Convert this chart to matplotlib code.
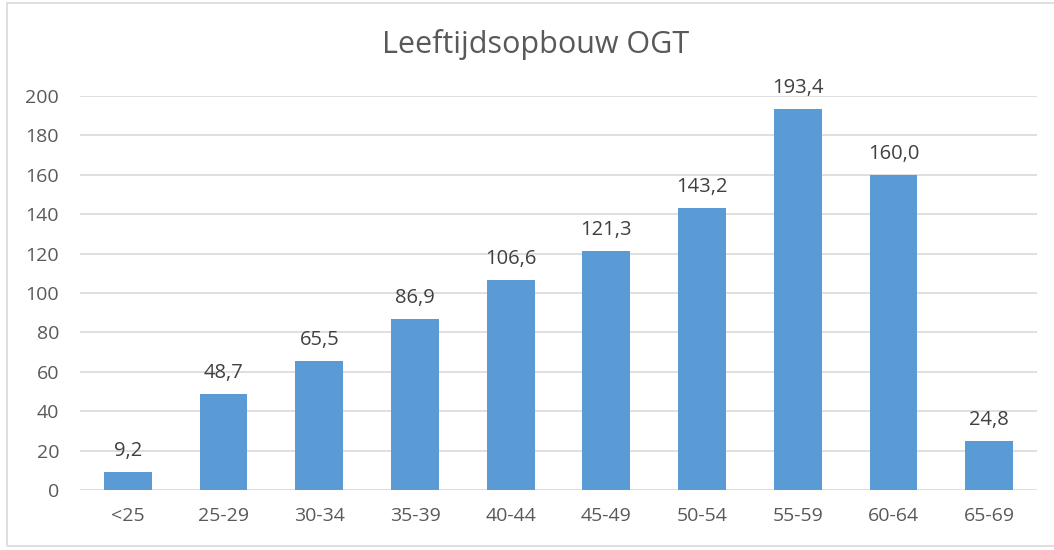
import matplotlib.pyplot as plt
from matplotlib.patches import Rectangle

categories = ['<25', '25-29', '30-34', '35-39', '40-44', '45-49',
              '50-54', '55-59', '60-64', '65-69']
values = [9.2, 48.7, 65.5, 86.9, 106.6, 121.3, 143.2, 193.4, 160.0, 24.8]
yticks = [0, 20, 40, 60, 80, 100, 120, 140, 160, 180, 200]

plt.rcParams['font.family'] = ['Open Sans', 'DejaVu Sans']
TXT = '#595959'

fig = plt.figure(figsize=(10.54, 5.5), dpi=100)
ax = fig.add_axes([0.0759, 0.109, 0.908, 0.7165])

x = list(range(len(categories)))
ax.bar(x, values, width=0.5, color='#5B9BD5', zorder=3)

for xi, v in zip(x, values):
    ax.annotate(f"{v:.1f}".replace('.', ','), (xi, v), xytext=(0, 8),
                textcoords='offset points', ha='center', va='bottom',
                fontsize=14.5, color='#404040')

ax.set_xlim(-0.5, len(categories) - 0.5)
ax.set_ylim(0, 200)
ax.set_yticks(yticks)
ax.set_xticks(x)
ax.set_xticklabels(categories)
ax.tick_params(axis='both', length=0, labelsize=14, labelcolor=TXT)
ax.tick_params(axis='x', pad=12)
ax.tick_params(axis='y', pad=15)
ax.grid(axis='y', color='#D9D9D9', linewidth=1.2, zorder=0)
for s in ax.spines.values():
    s.set_visible(False)

fig.text(0.508, 0.92, 'Leeftijdsopbouw OGT', ha='center', va='center',
         fontsize=22, color=TXT)

fig.patches.append(Rectangle((0.007, 0.007), 1.0, 0.988, transform=fig.transFigure,
                             fill=False, edgecolor='#D9D9D9', linewidth=1.2))

fig.savefig('out.png', dpi=100)
